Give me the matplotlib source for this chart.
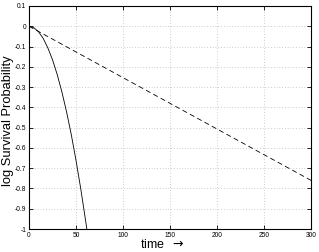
import numpy as np
import matplotlib
matplotlib.use("Agg")
import matplotlib.pyplot as plt

plt.rcParams['font.family'] = ['Liberation Sans', 'DejaVu Sans']

# solid curve
t_fast = [0, 5, 10, 15, 20, 25, 30, 35, 40, 45, 50, 55, 60, 61.5]
logs_fast = [0, -0.007, -0.026, -0.059, -0.106, -0.165, -0.238, -0.324,
             -0.423, -0.535, -0.661, -0.80, -0.952, -1.0]

# dashed line
t_slow = [0, 300]
logs_slow = [0, -0.76]

xticks = [0, 50, 100, 150, 200, 250, 300]
yticks = [0.1, 0, -0.1, -0.2, -0.3, -0.4, -0.5, -0.6, -0.7, -0.8, -0.9, -1]
ytick_labels = ["0.1", "0", "-0.1", "-0.2", "-0.3", "-0.4", "-0.5",
                "-0.6", "-0.7", "-0.8", "-0.9", "-1"]

fig = plt.figure(figsize=(3.19, 2.52), dpi=100)
ax = fig.add_axes([29 / 319, 23 / 252, 282 / 319, 223 / 252])

ax.plot(t_fast, logs_fast, color="black", linewidth=0.6)
ax.plot(t_slow, logs_slow, color="black", linewidth=0.6, linestyle=(0, (6, 4)))

ax.set_xlim(0, 300)
ax.set_ylim(-1, 0.1)
ax.set_xticks(xticks)
ax.set_xticklabels([str(x) for x in xticks])
ax.set_yticks(yticks)
ax.set_yticklabels(ytick_labels)
ax.tick_params(direction="in", labelsize=4.8, length=3, width=0.6,
               top=True, right=True, pad=2)
ax.grid(True, linestyle=(0, (1, 3)), color="#a0a0a0", linewidth=0.5)
for s in ax.spines.values():
    s.set_linewidth(0.8)

fig.text(8 / 319, 1 - 121 / 252, "log Survival Probability", fontsize=9.3,
         rotation=90, ha="center", va="center")
fig.text(162 / 319, 7 / 252, "time  $\\rightarrow$", fontsize=9,
         ha="center", va="center")

fig.savefig("out.png", dpi=100)
